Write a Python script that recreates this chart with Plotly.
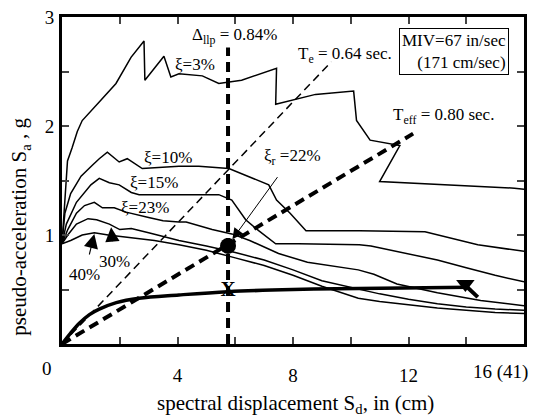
import plotly.graph_objects as go

# ---- data ----
xi3_x = [0, 0.1, 0.19, 0.35, 0.53, 0.7, 1.0, 1.36, 1.87, 2.39, 2.84, 2.87, 3.53, 3.77, 4.05, 4.86, 5.43, 6.22, 7.43, 7.40, 8.78, 10.1, 10.2, 10.67, 11.7, 11.0, 15.67, 16]
xi3_y = [0.92, 1.3, 1.68, 1.8, 1.95, 2.05, 2.14, 2.24, 2.39, 2.63, 2.78, 2.42, 2.64, 2.45, 2.48, 2.46, 2.39, 2.42, 2.53, 2.20, 2.29, 2.32, 2.05, 1.87, 1.82, 1.49, 1.43, 1.42]

xi10_x = [0, 0.1, 0.3, 0.66, 1.05, 1.29, 1.57, 1.98, 2.26, 2.78, 4.05, 4.74, 5.78, 7.16, 7.43, 7.9, 8.45, 10.3, 12.57, 14.4, 16]
xi10_y = [0.92, 1.2, 1.38, 1.54, 1.64, 1.70, 1.76, 1.67, 1.70, 1.61, 1.63, 1.63, 1.61, 1.46, 1.32, 1.2, 1.04, 1.04, 1.03, 0.91, 0.85]

xi15_x = [0, 0.15, 0.5, 1.0, 1.29, 1.64, 1.98, 2.4, 2.67, 4.05, 5.43, 5.88, 6.36, 6.81, 7.4, 8.2, 10.3, 10.7, 12, 13, 14, 15, 16]
xi15_y = [0.92, 1.1, 1.3, 1.46, 1.52, 1.48, 1.46, 1.39, 1.37, 1.37, 1.37, 1.32, 1.14, 1.04, 0.92, 0.92, 0.91, 0.90, 0.83, 0.77, 0.70, 0.63, 0.57]

xi23_x = [0, 0.2, 0.5, 0.78, 1.12, 1.4, 1.81, 2.22, 3.0, 3.5, 4.05, 4.3, 5.2, 5.88, 6.5, 7.5, 8.5, 10.26, 10.8, 11.6, 13, 14.5, 16]
xi23_y = [0.92, 1.05, 1.2, 1.27, 1.30, 1.25, 1.25, 1.21, 1.16, 1.13, 1.12, 1.12, 1.05, 1.01, 0.95, 0.83, 0.75, 0.68, 0.64, 0.55, 0.47, 0.40, 0.35]

xi30_x = [0, 0.2, 0.5, 0.9, 1.2, 1.64, 2.0, 2.4, 3.0, 4.05, 5, 6, 7, 8, 9, 10.26, 11, 12, 13, 14, 15, 16]
xi30_y = [0.92, 1.0, 1.1, 1.15, 1.14, 1.10, 1.05, 1.06, 1.02, 0.95, 0.90, 0.84, 0.77, 0.68, 0.58, 0.50, 0.46, 0.41, 0.37, 0.34, 0.32, 0.31]

xi40_x = [0, 0.3, 0.7, 1.12, 1.6, 2.5, 3.2, 4.05, 5, 6, 7, 8, 9, 10.26, 11, 12, 13, 14, 15, 16]
xi40_y = [0.92, 0.95, 1.0, 1.02, 1.0, 0.97, 0.95, 0.91, 0.86, 0.79, 0.72, 0.63, 0.53, 0.42, 0.39, 0.36, 0.33, 0.31, 0.29, 0.28]

cap_x = [0, 0.3, 0.6, 0.95, 1.29, 1.88, 2.67, 4.05, 5.75, 8, 10.26, 14.1]
cap_y = [0, 0.1, 0.19, 0.27, 0.32, 0.38, 0.42, 0.45, 0.48, 0.50, 0.51, 0.52]

te_x = [0, 9.33]
te_y = [0, 2.59]
teff_x = [0, 12.16]
teff_y = [0, 1.93]
dllp_x = [5.75, 5.75]
dllp_y = [0, 2.72]

perf_pt = (5.75, 0.90)
x_pt = (5.75, 0.485)
end_pt = (13.97, 0.55)
end_arrow_x = [14.0, 14.4]
end_arrow_y = [0.53, 0.43]

x_ticks = [0, 2, 4, 6, 8, 10, 12, 14, 16]
x_ticktext = ["", "", "4", "", "8", "", "12", "", ""]
y_ticks = [0, 0.5, 1, 1.5, 2, 2.5, 3]
y_ticktext = ["", "", "1", "", "2", "", "3"]

FONT = "Liberation Serif"

fig = go.Figure()
thin = dict(color="black", width=1.5)
for xs, ys in [(xi3_x, xi3_y), (xi10_x, xi10_y), (xi15_x, xi15_y),
               (xi23_x, xi23_y), (xi30_x, xi30_y), (xi40_x, xi40_y)]:
    fig.add_trace(go.Scatter(x=xs, y=ys, mode="lines", line=thin, showlegend=False, hoverinfo="skip"))

fig.add_trace(go.Scatter(x=te_x, y=te_y, mode="lines",
                         line=dict(color="black", width=1.5, dash="8px,5px"), showlegend=False))
fig.add_trace(go.Scatter(x=teff_x, y=teff_y, mode="lines",
                         line=dict(color="black", width=4, dash="10px,6px"), showlegend=False))
fig.add_trace(go.Scatter(x=dllp_x, y=dllp_y, mode="lines",
                         line=dict(color="black", width=4, dash="10px,6px"), showlegend=False))
fig.add_trace(go.Scatter(x=cap_x, y=cap_y, mode="lines", line=dict(color="black", width=3.5),
                         line_shape="spline", showlegend=False))
fig.add_trace(go.Scatter(x=end_arrow_x, y=end_arrow_y, mode="lines", line=dict(color="black", width=4),
                         showlegend=False))
fig.add_trace(go.Scatter(x=[end_pt[0]], y=[end_pt[1]], mode="markers",
                         marker=dict(symbol="triangle-down", size=16, color="black"), showlegend=False))
fig.add_trace(go.Scatter(x=[perf_pt[0]], y=[perf_pt[1]], mode="markers",
                         marker=dict(symbol="circle", size=16, color="black"), showlegend=False))
fig.add_trace(go.Scatter(x=[x_pt[0]], y=[x_pt[1]], mode="text", text=["<b>X</b>"],
                         textfont=dict(family=FONT, size=21, color="black"),
                         textposition="middle center", showlegend=False))

ann = []
def A(text, x, y, size=17, ref="x", **kw):
    d = dict(text=text, x=x, y=y, showarrow=False, xanchor="center", yanchor="middle",
             font=dict(family=FONT, size=size, color="black"), arrowcolor="black")
    if ref == "x":
        d.update(xref="x", yref="y")
    else:
        d.update(xref="paper", yref="paper")
    d.update(kw)
    ann.append(d)

A("ξ=3%", 4.6, 2.56)
A("ξ=10%", 3.67, 1.71)
A("ξ=15%", 3.19, 1.48)
A("ξ=23%", 2.88, 1.25)
A("40%", 1.12, 1.01, showarrow=True, ax=0.78, ay=0.64, axref="x", ayref="y",
  arrowhead=2, arrowsize=2.6, arrowwidth=1.1, standoff=0, startstandoff=9)
A("30%", 1.7, 1.07, showarrow=True, ax=1.81, ay=0.76, axref="x", ayref="y",
  arrowhead=2, arrowsize=2.6, arrowwidth=1.1, standoff=0, startstandoff=9)
A("ξ<sub>r</sub> =22%", 5.9, 0.96, showarrow=True, ax=7.98, ay=1.72, axref="x", ayref="y",
  arrowhead=2, arrowsize=2.2, arrowwidth=1, standoff=0, startstandoff=10)
A("Δ<sub>llp</sub> = 0.84%", 5.98, 2.83)
A("T<sub>e</sub> = 0.64 sec.", 8.1, 2.65, xanchor="left")
A("T<sub>eff</sub> = 0.80 sec.", 11.39, 2.09, xanchor="left")
A("MIV=67 in/sec<br>(171 cm/sec)", 13.57, 2.68, align="right", bordercolor="black",
  borderwidth=1, borderpad=2, bgcolor="white")
A("0", -0.032, -0.075, size=19, ref="paper")
A("16 (41)", 1.013, -0.087, size=19, ref="paper", xanchor="right")
A("spectral displacement S<sub>d</sub>, in (cm)", 0.505, -0.183, size=21, ref="paper")
A("pseudo-acceleration S<sub>a</sub> , g", -0.09, 0.36, size=21, ref="paper", textangle=-90)

fig.update_layout(
    width=534, height=418,
    margin=dict(l=62, r=7, t=11, b=74),
    plot_bgcolor="white", paper_bgcolor="white",
    font=dict(family=FONT, size=19, color="black"),
    annotations=ann,
    xaxis=dict(range=[0, 16], tickvals=x_ticks, ticktext=x_ticktext, ticks="inside",
               ticklen=7, tickwidth=2, showline=True, linewidth=3, linecolor="black",
               mirror="ticks", showgrid=False, zeroline=False, ticklabelstandoff=12),
    yaxis=dict(range=[0, 3], tickvals=y_ticks, ticktext=y_ticktext, ticks="inside",
               ticklen=7, tickwidth=2, showline=True, linewidth=3, linecolor="black",
               mirror="ticks", showgrid=False, zeroline=False, ticklabelstandoff=1),
)
fig.write_html("out.html")
